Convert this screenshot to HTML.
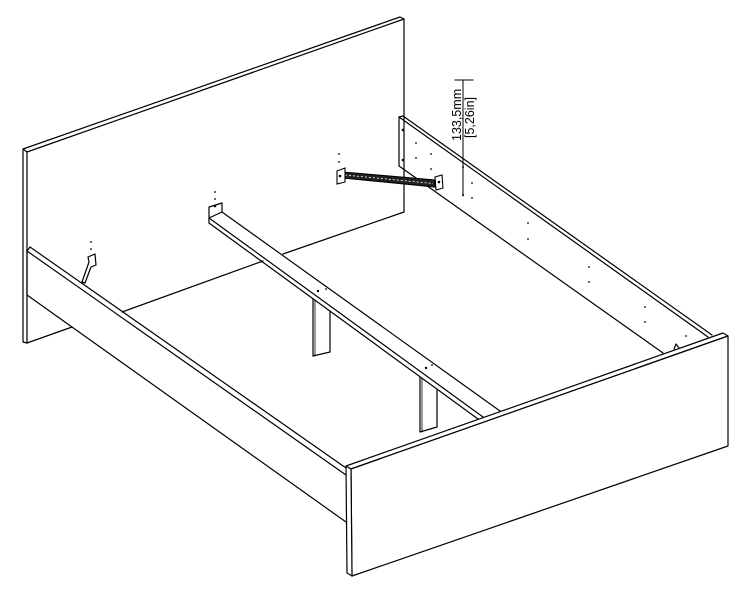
<!DOCTYPE html>
<html><head><meta charset="utf-8"><style>
html,body{margin:0;padding:0;background:#fff;width:750px;height:592px;overflow:hidden}
svg{display:block}
</style></head><body>
<svg width="750" height="592" viewBox="0 0 750 592" xmlns="http://www.w3.org/2000/svg">
<g fill="none" stroke="#000" stroke-width="1.2" stroke-linejoin="round" stroke-linecap="round">
<!-- Headboard -->
<polyline points="23,342 23,149 400,17 404,19 404,212"/>
<line x1="23" y1="149" x2="27" y2="152"/>
<line x1="27" y1="152" x2="404" y2="19"/>
<line x1="27" y1="152" x2="27" y2="343"/>
<line x1="23" y1="342" x2="27" y2="343"/>
<line x1="27" y1="343" x2="72" y2="327"/>
<!-- floor line behind -->
<line x1="122" y1="312" x2="263" y2="261"/>
<line x1="283" y1="254" x2="404" y2="212"/>
<!-- Left side rail -->
<line x1="30" y1="247" x2="346" y2="468"/>
<line x1="27" y1="251" x2="346" y2="475"/>
<line x1="27" y1="251" x2="30" y2="247"/>
<line x1="27" y1="251" x2="27" y2="295"/>
<line x1="27" y1="295" x2="346" y2="522"/>
<!-- left small bracket -->
<polygon points="82,282 89,262 88,257 95,254 96,265 91,267 85,283"/>
<!-- Right side rail -->
<line x1="399" y1="117" x2="708" y2="337"/>
<line x1="403" y1="116" x2="712" y2="335"/>
<line x1="399" y1="117" x2="403" y2="116"/>
<line x1="399" y1="117" x2="399" y2="166"/>
<line x1="399" y1="166" x2="663" y2="353"/>
<path d="M674,349 L676,344 L679,348"/>
<!-- Center beam -->
<line x1="209" y1="218" x2="483" y2="417"/>
<line x1="222" y1="212" x2="500" y2="411"/>
<line x1="209" y1="223" x2="478" y2="419"/>
<line x1="209" y1="218" x2="209" y2="223"/>
<line x1="209" y1="218" x2="222" y2="212"/>
<polyline points="209,218 209,207 222,203 222,212"/>
<!-- legs -->
<polyline points="313,299 313,356 330,352 330,311"/>
<line x1="315" y1="300" x2="315" y2="356" stroke-width="0.8"/>
<polyline points="420,377 420,432 437,427 437,389"/>
<line x1="422" y1="378" x2="422" y2="432" stroke-width="0.8"/>
<!-- Footboard -->
<polygon points="346,466 723,333 728,336 351,469" fill="#fff"/>
<polygon points="351,469 728,336 728,446 352,576" fill="#fff"/>
<polygon points="346,466 351,469 352,576 347,573" fill="#fff"/>
<!-- dimension -->
<line x1="463" y1="80" x2="463" y2="196" stroke-width="1"/>
<line x1="455" y1="80" x2="473" y2="80" stroke-width="1"/>
</g>
<g stroke="#000" stroke-width="1.1">
<polygon points="343,172 435,180 435,187 343,178" fill="#222"/>
<line x1="345" y1="175" x2="433" y2="183.5" stroke="#fff" stroke-width="0.8" stroke-dasharray="2,2"/>
<polygon points="337,171 345,168 345,182 337,184" fill="#fff"/>
<polygon points="435,177 442,175 443,188 436,190" fill="#fff"/>
</g>
<g fill="#000">
<circle cx="340" cy="176" r="1.3"/><circle cx="439" cy="182" r="1.3"/>
<circle cx="91" cy="242" r="0.9"/><circle cx="91" cy="249" r="0.9"/>
<circle cx="215" cy="192" r="0.9"/><circle cx="215" cy="199" r="0.9"/>
<circle cx="215" cy="206" r="1.3"/>
<circle cx="339" cy="154" r="0.9"/><circle cx="339" cy="162" r="0.9"/>
<circle cx="403" cy="130" r="1.3"/><circle cx="403" cy="160" r="1.3"/>
<circle cx="416" cy="143" r="0.9"/><circle cx="416" cy="158" r="0.9"/>
<circle cx="431" cy="154" r="0.9"/><circle cx="431" cy="169" r="0.9"/>
<circle cx="472" cy="183" r="0.9"/><circle cx="472" cy="198" r="0.9"/>
<circle cx="528" cy="223" r="0.9"/><circle cx="528" cy="239" r="0.9"/>
<circle cx="589" cy="267" r="0.9"/><circle cx="589" cy="282" r="0.9"/>
<circle cx="645" cy="307" r="0.9"/><circle cx="645" cy="322" r="0.9"/>
<circle cx="686" cy="336" r="0.9"/>
<circle cx="318" cy="291" r="1.2"/><circle cx="326" cy="289" r="0.9"/>
<circle cx="426" cy="368" r="1.2"/><circle cx="432" cy="365" r="0.9"/>
<circle cx="463" cy="167" r="1"/><circle cx="463" cy="195" r="1"/>
</g>
<g font-family="Liberation Sans, sans-serif" font-size="12.5" fill="#000">
<text transform="translate(461,141) rotate(-90)">133,5mm</text>
<text transform="translate(474,138) rotate(-90)">[5,26in]</text>
</g>
</svg>
</body></html>
